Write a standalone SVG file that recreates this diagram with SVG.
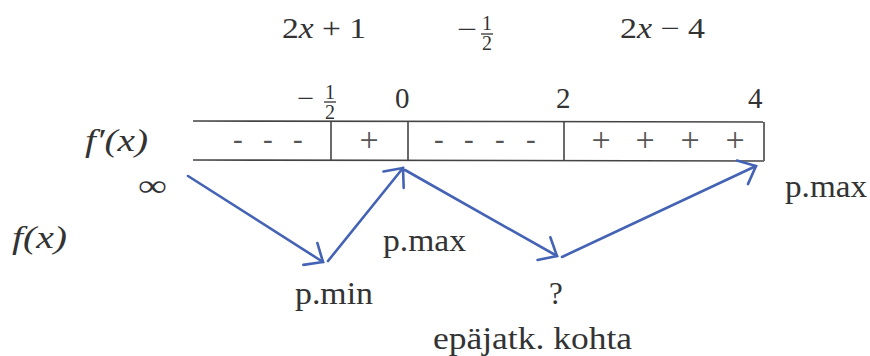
<svg xmlns="http://www.w3.org/2000/svg" width="870" height="356" viewBox="0 0 870 356">
<defs>
<style>
text{fill:#333;font-size:31px}
.num{font-size:29px}
.it{font-style:italic}
.sm{font-size:20px;text-anchor:middle}
.sg{font-size:29px;fill:#555}
.pl{font-size:34px;fill:#555}
.tbl{stroke:#444;stroke-width:1.6;fill:none}
.arr{stroke:#4563b5;stroke-width:2.6;fill:none;stroke-linecap:round}
.bar{stroke:#333;stroke-width:1.3}
</style>
<marker id="ah" viewBox="0 0 24 30" refX="20" refY="15" markerWidth="24" markerHeight="30" markerUnits="userSpaceOnUse" orient="auto">
<polyline points="5,2 20,15 5,28" fill="none" stroke="#4563b5" stroke-width="2.6" stroke-linecap="round"/>
</marker>
</defs>
<rect width="870" height="356" fill="#fff"/>
<g font-family="Liberation Serif, Times New Roman, serif">
<g id="headers">
<text class="num" x="282" y="38" textLength="84" lengthAdjust="spacingAndGlyphs">2<tspan class="it">x</tspan> + 1</text>
<g id="h2"><text class="num" x="457" y="39" textLength="20" lengthAdjust="spacingAndGlyphs">−</text><text class="sm" x="487" y="30">1</text><line class="bar" x1="481" y1="34" x2="493" y2="34"/><text class="sm" x="487" y="50">2</text></g>
<text class="num" x="620" y="38" textLength="85" lengthAdjust="spacingAndGlyphs">2<tspan class="it">x</tspan> − 4</text>
</g>
<g id="ticks">
<g id="t1"><text class="num" x="297" y="108" textLength="17" lengthAdjust="spacingAndGlyphs">−</text><text class="sm" x="330" y="99">1</text><line class="bar" x1="324" y1="102" x2="336" y2="102"/><text class="sm" x="330" y="119">2</text></g>
<text class="num" x="395" y="108">0</text>
<text class="num" x="556" y="108">2</text>
<text class="num" x="748" y="108">4</text>
</g>
<g id="table">
<line class="tbl" x1="193" y1="121" x2="764" y2="122"/>
<line class="tbl" x1="193" y1="160" x2="764" y2="161"/>
<line class="tbl" x1="331" y1="121" x2="331" y2="160"/>
<line class="tbl" x1="408" y1="121" x2="408" y2="160"/>
<line class="tbl" x1="564" y1="122" x2="564" y2="161"/>
<line class="tbl" x1="764" y1="122" x2="764" y2="161"/>
<text class="sg" x="233 263 293" y="149">---</text>
<text class="pl" x="359.5" y="151">+</text>
<text class="sg" x="434 464 495 526" y="149">----</text>
<text class="pl" x="591.5 635.5 680.5 725.5" y="151">++++</text>
</g>
<g id="labels">
<text class="it" x="85" y="151" textLength="63" lengthAdjust="spacingAndGlyphs">f′(x)</text>
<text x="138" y="196" font-size="36" textLength="29" lengthAdjust="spacingAndGlyphs">∞</text>
<text class="it" x="12" y="248" textLength="55" lengthAdjust="spacingAndGlyphs">f(x)</text>
<text x="295" y="304" textLength="78" lengthAdjust="spacingAndGlyphs">p.min</text>
<text x="383" y="251" textLength="83" lengthAdjust="spacingAndGlyphs">p.max</text>
<text x="549" y="304">?</text>
<text x="433" y="349" textLength="199" lengthAdjust="spacingAndGlyphs">epäjatk. kohta</text>
<text x="785" y="197" textLength="82" lengthAdjust="spacingAndGlyphs">p.max</text>
</g>
</g>
<g id="connectors">
<line class="arr" x1="188" y1="176" x2="323" y2="262" marker-end="url(#ah)"/>
<line class="arr" x1="328" y1="261" x2="403" y2="168" marker-end="url(#ah)"/>
<line class="arr" x1="405" y1="170" x2="557" y2="256" marker-end="url(#ah)"/>
<line class="arr" x1="562" y1="257" x2="756" y2="166" marker-end="url(#ah)"/>
</g>
</svg>
